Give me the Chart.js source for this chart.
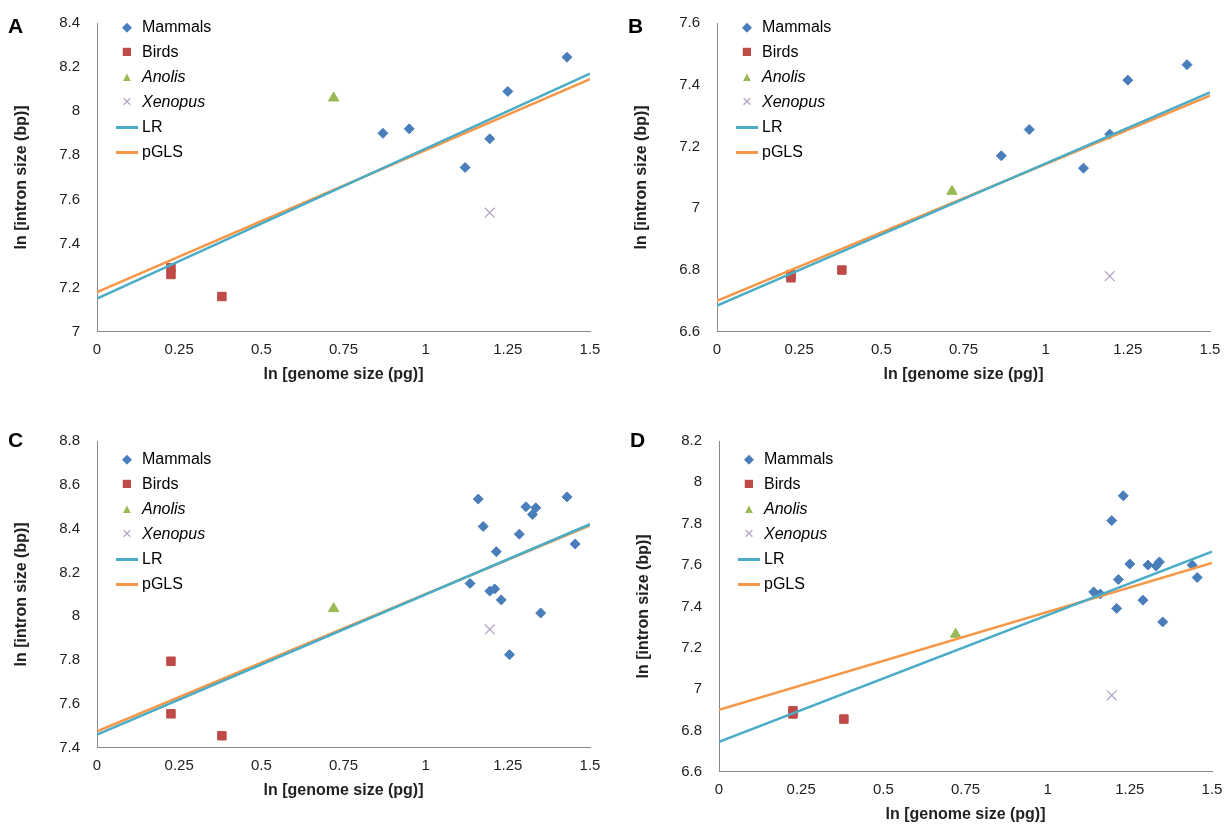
<!DOCTYPE html>
<html><head><meta charset="utf-8">
<script src="https://cdn.jsdelivr.net/npm/chart.js@4"></script>
<style>
body{margin:0;background:#fff;width:1232px;height:840px;position:relative;font-family:Arial,"Liberation Sans",sans-serif;overflow:hidden}
.p{position:absolute;width:616px;height:420px}
.p canvas{position:absolute;left:0;top:0}
.lt{position:absolute;font-weight:bold;font-size:21px}
.lg{position:absolute;font-size:16px;line-height:25px}
.lg div{display:flex;align-items:center}
.lg span.s{display:inline-block;width:26px;text-align:center;margin-right:2px}
</style></head><body>
<script>
const panelLabels=["A","B","C","D"];
const yRanges=[[7,8.4,0.2],[6.6,7.6,0.2],[7.4,8.8,0.2],[6.6,8.2,0.2]];
const mammalsA=[[0.87,7.90],[0.95,7.92],[1.12,7.745],[1.195,7.875],[1.25,8.09],[1.43,8.245]];
const birdsA=[[0.225,7.29],[0.225,7.26],[0.38,7.16]];
const anolisA=[[0.72,8.06]];
const xenopusA=[[1.195,7.54]];
const lrA=[[0,7.15],[1.5,8.17]];
const pglsA=[[0,7.18],[1.5,8.145]];
const mammalsB=[[0.865,7.17],[0.95,7.255],[1.115,7.13],[1.195,7.24],[1.25,7.415],[1.43,7.465]];
const birdsB=[[0.225,6.785],[0.225,6.775],[0.38,6.8]];
const anolisB=[[0.715,7.055]];
const xenopusB=[[1.195,6.78]];
const lrB=[[0,6.685],[1.5,7.375]];
const pglsB=[[0,6.70],[1.5,7.365]];
const mammalsC=[[1.16,8.535],[1.175,8.41],[1.135,8.15],[1.195,8.115],[1.21,8.125],[1.215,8.295],[1.23,8.075],[1.255,7.825],[1.285,8.375],[1.305,8.5],[1.325,8.465],[1.335,8.495],[1.35,8.015],[1.43,8.545],[1.455,8.33]];
const birdsC=[[0.225,7.795],[0.225,7.555],[0.38,7.455]];
const anolisC=[[0.72,8.035]];
const xenopusC=[[1.195,7.94]];
const lrC=[[0,7.46],[1.5,8.42]];
const pglsC=[[0,7.475],[1.5,8.415]];
const mammalsD=[[1.14,7.47],[1.16,7.46],[1.195,7.815],[1.21,7.39],[1.215,7.53],[1.23,7.935],[1.25,7.605],[1.29,7.43],[1.305,7.60],[1.33,7.595],[1.34,7.615],[1.35,7.325],[1.44,7.60],[1.455,7.54]];
const birdsD=[[0.225,6.895],[0.225,6.88],[0.38,6.855]];
const anolisD=[[0.72,7.265]];
const xenopusD=[[1.195,6.97]];
const lrD=[[0,6.745],[1.5,7.665]];
const pglsD=[[0,6.9],[1.5,7.61]];
const xTicks=[0,0.25,0.5,0.75,1,1.25,1.5];
const panels=[
 [mammalsA,birdsA,anolisA,xenopusA,lrA,pglsA],
 [mammalsB,birdsB,anolisB,xenopusB,lrB,pglsB],
 [mammalsC,birdsC,anolisC,xenopusC,lrC,pglsC],
 [mammalsD,birdsD,anolisD,xenopusD,lrD,pglsD]];
const pos=[[0,0],[620,0],[0,420],[622,420]];
const pads=[[23,32],[23,32],[8,36],[11,12]];
const legTop=[14,14,26,26];
const C={m:"#4a7ebb",b:"#be4b48",a:"#98b954",x:"#b3a2c7",lr:"#4bacc6",pg:"#f79646"};
const pts=a=>a.map(p=>({x:p[0],y:p[1]}));
panels.forEach((d,i)=>{
 const div=document.createElement('div');div.className='p';
 div.style.left=pos[i][0]+'px';div.style.top=pos[i][1]+'px';
 const cv=document.createElement('canvas');cv.width=616;cv.height=420;cv.style.width='616px';cv.style.height='420px';
 div.appendChild(cv);
 const lt=document.createElement('div');lt.className='lt';lt.textContent=panelLabels[i];lt.style.left='8px';lt.style.top=(i<2?14:8)+'px';div.appendChild(lt);
 const lg=document.createElement('div');lg.className='lg';lg.style.left='114px';lg.style.top=legTop[i]+'px';
 lg.innerHTML=`<div><span class="s" style="color:${C.m};font-size:13px">◆</span>Mammals</div>
<div><span class="s" style="color:${C.b};font-size:17px">■</span>Birds</div>
<div><span class="s" style="color:${C.a};font-size:13px">▲</span><i>Anolis</i></div>
<div><span class="s" style="color:${C.x};font-size:17px">×</span><i>Xenopus</i></div>
<div><span class="s"><span style="display:inline-block;width:22px;height:3px;background:${C.lr};vertical-align:middle"></span></span>LR</div>
<div><span class="s"><span style="display:inline-block;width:22px;height:3px;background:${C.pg};vertical-align:middle"></span></span>pGLS</div>`;
 div.appendChild(lg);
 document.body.appendChild(div);
 const yr=yRanges[i];
 new Chart(cv,{type:'scatter',data:{datasets:[
  {data:pts(d[4]),showLine:true,borderColor:C.lr,borderWidth:2.5,pointRadius:0},
  {data:pts(d[5]),showLine:true,borderColor:C.pg,borderWidth:2.5,pointRadius:0},
  {data:pts(d[0]),pointStyle:'rectRot',pointRadius:5,backgroundColor:C.m,borderColor:C.m},
  {data:pts(d[1]),pointStyle:'rect',pointRadius:6,backgroundColor:C.b,borderColor:C.b},
  {data:pts(d[2]),pointStyle:'triangle',pointRadius:6,backgroundColor:C.a,borderColor:C.a},
  {data:pts(d[3]),pointStyle:'cross',rotation:45,pointRadius:7,borderWidth:1.2,borderColor:C.x,backgroundColor:C.x}
 ]},options:{responsive:false,animation:false,devicePixelRatio:1,
  layout:{padding:{left:8,right:26,top:pads[i][0],bottom:pads[i][1]}},
  plugins:{legend:{display:false},tooltip:{enabled:false}},
  scales:{
   x:{type:'linear',min:0,max:1.5,afterBuildTicks:s=>{s.ticks=xTicks.map(v=>({value:v}))},
     grid:{display:false,drawTicks:true,tickLength:5},border:{color:'#888'},
     ticks:{color:'#222',font:{size:15},padding:4,callback:v=>String(v)},
     title:{display:true,text:'ln [genome size (pg)]',font:{size:16,weight:'bold'},color:'#222',padding:{top:2}}},
   y:{min:yr[0],max:yr[1],ticks:{stepSize:yr[2],color:'#222',font:{size:15},padding:12,callback:v=>String(+v.toFixed(1))},
     grid:{display:false,tickLength:5},border:{color:'#888'},
     afterFit:s=>{s.width=89},
     title:{display:true,text:'ln [intron size (bp)]',font:{size:16,weight:'bold'},color:'#222'}}
  }}});
});
</script></body></html>
